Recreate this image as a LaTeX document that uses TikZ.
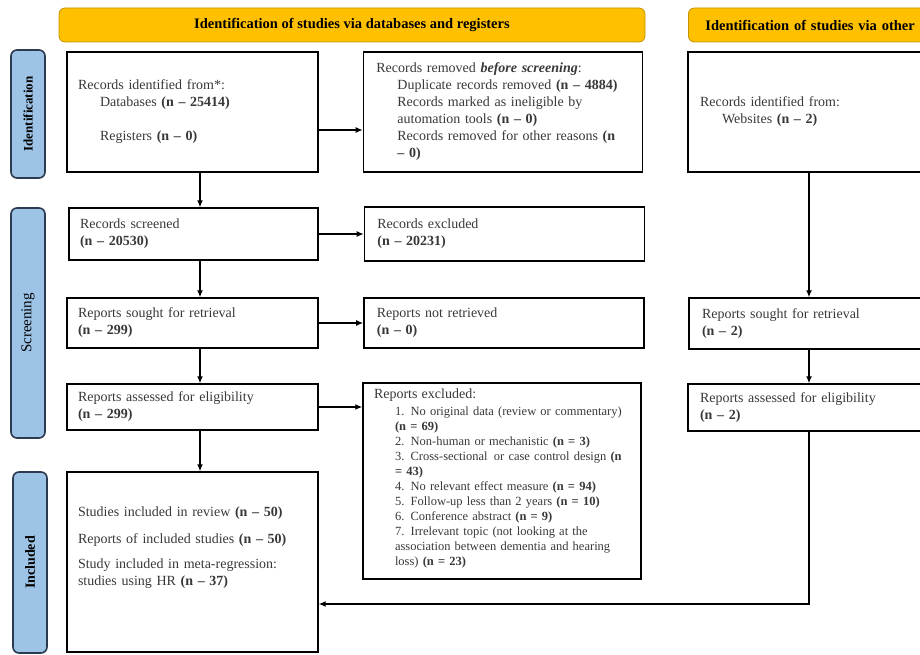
\documentclass[tikz,border=0pt]{standalone}
\usepackage{fontspec}
\setmainfont{Liberation Serif}
\usetikzlibrary{positioning,arrows.meta}
\definecolor{hdrorange}{HTML}{FFC000}
\definecolor{hdrline}{HTML}{C39200}
\definecolor{phaseblue}{HTML}{9DC3E6}
\definecolor{phaseline}{HTML}{2B3A4F}

\begin{document}
\begin{tikzpicture}[x=1pt,y=-1pt,
		h/.style={rectangle,draw=hdrline,fill=hdrorange,rounded corners=6pt,line width=0.8pt,minimum height=34pt,font=\fontsize{14.5}{16}\selectfont\bfseries},
		p/.style={rectangle,draw=phaseline,fill=phaseblue,rounded corners=6pt,line width=1.6pt,minimum height=34pt,rotate=90,inner sep=0pt,font=\fontsize{13}{15}\selectfont\bfseries},
		b/.style={rectangle,draw,line width=1.4pt,inner xsep=11pt,inner ysep=4pt,align=left,text=black!78,font=\fontsize{14}{17}\selectfont},
		a/.style={draw,-{Latex[length=7pt,width=6pt]},line width=1.3pt}
		]
		
		\clip (0,0) rectangle (920,655);
		
		% headers
		\node [h,minimum width=586pt] (db head) at (352,25) {Identification of studies via databases and registers};
		\node [h,minimum width=300pt,text width=266pt,inner xsep=17pt,align=left,anchor=west] (other head) at (688,25) {Identification of studies via other};
		
		% phases
		\node [p,minimum width=128pt] (identification) at (28,114) {Identification};
		\node [p,minimum width=230pt,font=\fontsize{15}{17}\selectfont] (screening) at (28,323) {Screening};
		\node [p,minimum width=181pt,font=\fontsize{14}{16}\selectfont\bfseries] (included phase) at (30,562.5) {Included};
		
		% databases and registers
		\node [b,minimum width=251pt,minimum height=120pt,text width=229pt] (ident) at (192.5,112) {Records identified from*:\\
			\hspace*{22pt}Databases \textbf{(n – 25414)}\\[17pt]
			\hspace*{22pt}Registers \textbf{(n – 0)}};
		\node [b,minimum width=279pt,minimum height=120pt,text width=253pt,inner xsep=13pt,right=44pt of ident] (removed) {Records removed \textbf{\textit{before screening}}:\\
			\hspace*{21pt}Duplicate records removed \textbf{(n – 4884)}\\
			\hspace*{21pt}Records marked as ineligible by\\
			\hspace*{21pt}automation tools \textbf{(n – 0)}\\
			\hspace*{21pt}Records removed for other reasons \textbf{(n}\\
			\hspace*{21pt}\textbf{– 0)}};
		\node [b,minimum width=249pt,minimum height=52pt,text width=227pt] (screened) at (193.5,234) {Records screened\\\textbf{(n – 20530)}};
		\node [b,minimum width=280pt,minimum height=54pt,text width=254pt,inner xsep=13pt,right=45pt of screened] (excluded) {Records excluded\\\textbf{(n – 20231)}};
		\node [b,minimum width=251pt,minimum height=50pt,text width=229pt] (sought) at (192.5,323) {Reports sought for retrieval\\\textbf{(n – 299)}};
		\node [b,minimum width=280pt,minimum height=50pt,text width=254pt,inner xsep=13pt,right=44.5pt of sought] (not retrieved) {Reports not retrieved\\\textbf{(n – 0)}};
		\node [b,minimum width=251pt,minimum height=46pt,text width=229pt] (assessed) at (192.5,407) {Reports assessed for eligibility\\\textbf{(n – 299)}};
		\node [b,minimum width=278pt,minimum height=196pt,text width=256pt,inner xsep=11pt,font=\fontsize{12.5}{15}\selectfont] (rep excluded) at (502,481) {{\fontsize{14}{17}\selectfont Reports excluded:}\\[2pt]
			\hspace*{21pt}1. No original data (review or commentary)\\
			\hspace*{21pt}\textbf{(n = 69)}\\
			\hspace*{21pt}2. Non-human or mechanistic \textbf{(n = 3)}\\
			\hspace*{21pt}3. Cross-sectional\, or case control design \textbf{(n}\\
			\hspace*{21pt}\textbf{= 43)}\\
			\hspace*{21pt}4. No relevant effect measure \textbf{(n = 94)}\\
			\hspace*{21pt}5. Follow-up less than 2 years \textbf{(n = 10)}\\
			\hspace*{21pt}6. Conference abstract \textbf{(n = 9)}\\
			\hspace*{21pt}7. Irrelevant topic (not looking at the\\
			\hspace*{21pt}association between dementia and hearing\\
			\hspace*{21pt}loss) \textbf{(n = 23)}\\[-7pt]\mbox{}};
		\node [b,minimum width=251pt,minimum height=180pt,text width=229pt] (included) at (192.5,562) {Studies included in review \textbf{(n – 50)}\\[10pt]
			Reports of included studies \textbf{(n – 50)}\\[8pt]
			Study included in meta-regression:\\
			studies using HR \textbf{(n – 37)}\\[15pt]\mbox{}};
		
		% other methods
		\node [b,minimum width=272pt,minimum height=120pt,text width=248pt,inner xsep=12pt] (web) at (824,112) {Records identified from:\\
			\hspace*{22pt}Websites \textbf{(n – 2)}};
		\node [b,minimum width=270pt,minimum height=51pt,text width=246pt,inner xsep=13pt] (other sought) at (825,323.5) {Reports sought for retrieval\\\textbf{(n – 2)}};
		\node [b,minimum width=272pt,minimum height=47pt,text width=248pt,inner xsep=12pt] (other assessed) at (824,407.5) {Reports assessed for eligibility\\\textbf{(n – 2)}};
		
		\coordinate (left flow) at (200,0);
		\coordinate (right flow) at (809,0);
		
		\path [a] (ident.south -| left flow) -- (screened.north -| left flow);
		\path [a] (screened.south -| left flow) -- (sought.north -| left flow);
		\path [a] (sought.south -| left flow) -- (assessed.north -| left flow);
		\path [a] (assessed.south -| left flow) -- (included.north -| left flow);
		\path [a] ([yshift=-18pt]ident.east) -- ([yshift=-18pt]removed.west);
		\path [a] (screened.east) -- (excluded.west);
		\path [a] (sought.east) -- (not retrieved.west);
		\path [a] (assessed.east) -- (rep excluded.west |- assessed.east);
		\path [a] (web.south -| right flow) -- (other sought.north -| right flow);
		\path [a] (other sought.south -| right flow) -- (other assessed.north -| right flow);
		\path [a] (other assessed.south -| right flow) |- ([yshift=-42pt]included.east);
		
	\end{tikzpicture}
\end{document}
